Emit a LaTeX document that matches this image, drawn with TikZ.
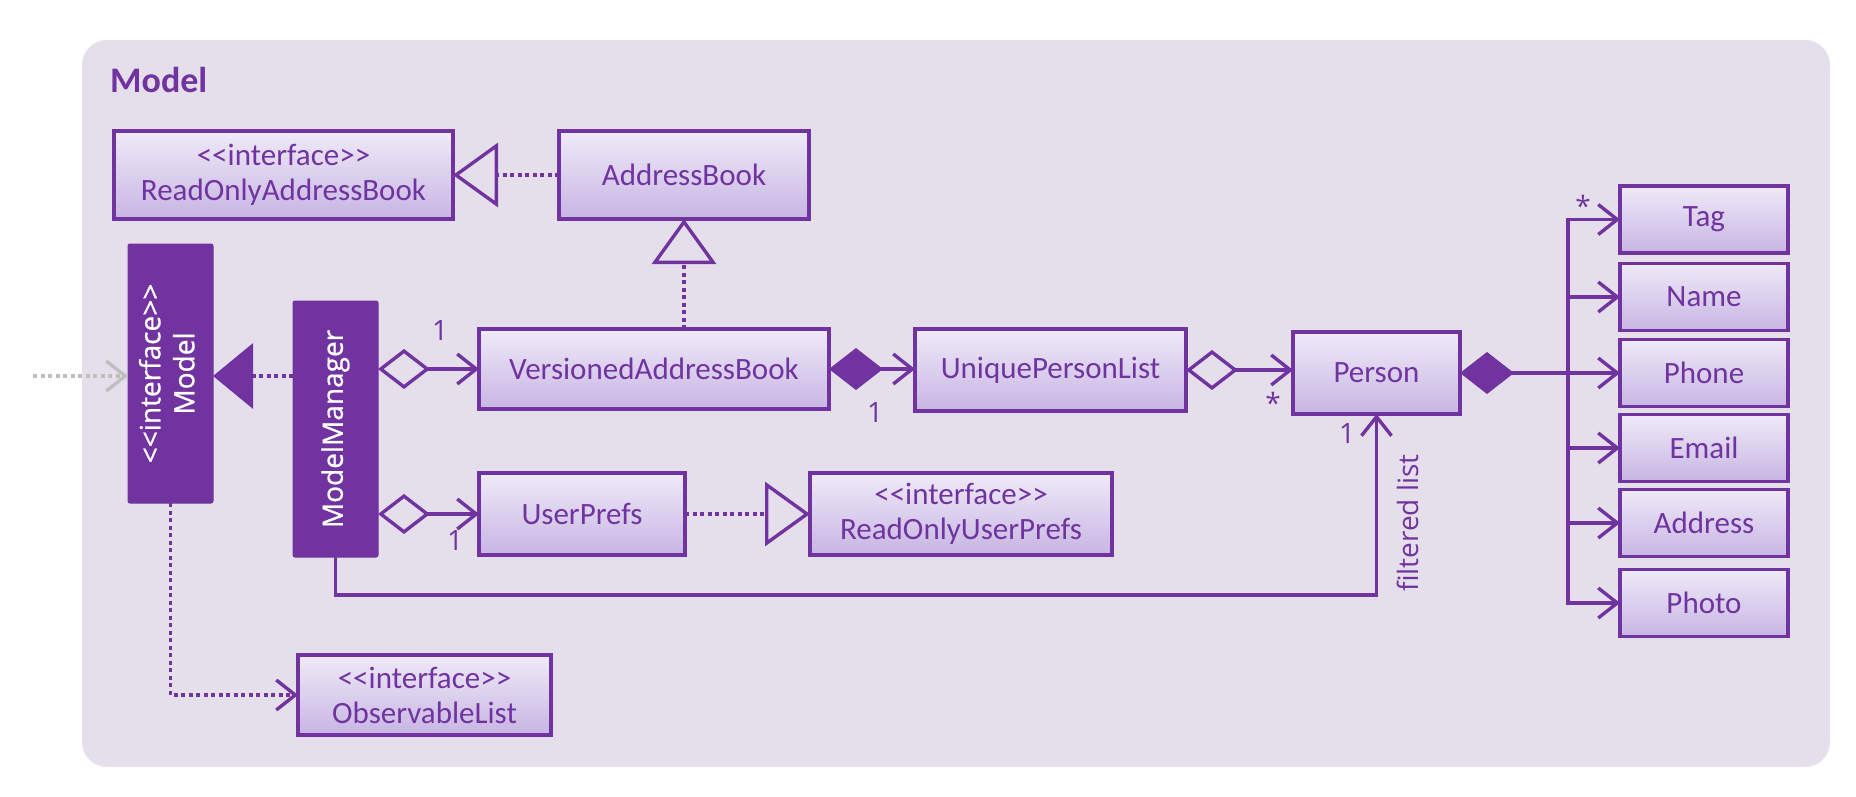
\documentclass[tikz,border=0pt]{standalone}
\usepackage{fontspec}
\usetikzlibrary{arrows.meta}

\newfontfamily\carlito{Carlito}[Ligatures=TeXOff]
\newfontfamily\osans{Open Sans}[Ligatures=TeXOff]
\newfontfamily\osanswhite{Open Sans}[Ligatures=TeXOff,FakeBold=0.8]

\definecolor{umlpurple}{RGB}{112,51,160}
\definecolor{panelbg}{RGB}{229,223,236}
\definecolor{boxtop}{RGB}{239,234,248}
\definecolor{boxbot}{RGB}{199,181,227}
\definecolor{extgray}{RGB}{190,190,190}

\newcommand\boxtext{\carlito\fontsize{31}{35}\selectfont}
\newcommand\solidtext{\osanswhite\fontsize{28}{34}\selectfont}
\newcommand\labeltext{\osans\fontsize{28}{32}\selectfont}
\newcommand\titletext{\carlito\bfseries\fontsize{36}{40}\selectfont}

\begin{document}
\begin{tikzpicture}[x=1pt,y=-1pt,
  cls/.style={draw=umlpurple, line width=3.5pt, top color=boxtop, bottom color=boxbot,
    text=umlpurple, font=\boxtext, align=center, inner sep=0pt, outer sep=0pt},
  solidcls/.style={draw=umlpurple, fill=umlpurple, line width=1pt, rounded corners=2pt,
    text=white, font=\solidtext, inner sep=0pt, outer sep=0pt},
  attr/.style={cls, minimum width=168pt, minimum height=67pt},
  lbl/.style={text=umlpurple, font=\labeltext, inner sep=0pt},
  link/.style={draw=umlpurple, line width=3.4pt},
  dots/.style={link, dash pattern=on 4pt off 3.5pt},
  >={Straight Barb[length=19pt,width=30pt]},
  odia/.tip={Diamond[open,length=52pt,width=40pt]},
  sdia/.tip={Diamond[length=54pt,width=42pt]},
  otri/.tip={Triangle[open,length=45pt,width=64pt]},
  stri/.tip={Triangle[length=40pt,width=65pt]},
]
\useasboundingbox (0,0) rectangle (1856,796);

% package panel
\fill[panelbg, rounded corners=25pt] (82,40) rectangle (1830,767);
\node[anchor=west, text=umlpurple, font=\titletext, inner sep=0pt] (title) at (110,80) {Model};

% classes
\node[cls, minimum width=339pt, minimum height=88pt] (roab) at (283.5,175) {<<interface>>\\ReadOnlyAddressBook};
\node[cls, minimum width=250pt, minimum height=88pt] (ab) at (684,175) {AddressBook};
\node[solidcls, minimum width=85pt, minimum height=259pt] (model) at (170.5,373.5)
  {\rotatebox{90}{\begin{tabular}{@{}c@{}}<<interface>>\\Model\end{tabular}}};
\node[solidcls, minimum width=85pt, minimum height=256pt] (mm) at (335.5,429)
  {\rotatebox{90}{ModelManager}};
\node[cls, minimum width=350pt, minimum height=80pt] (vab) at (654,369) {VersionedAddressBook};
\node[cls, minimum width=271pt, minimum height=82pt] (upl) at (1050.5,370) {UniquePersonList};
\node[cls, minimum width=167pt, minimum height=82pt] (person) at (1376.5,373) {Person};
\node[cls, minimum width=206pt, minimum height=82pt] (up) at (582,514) {UserPrefs};
\node[cls, minimum width=302pt, minimum height=82pt] (roup) at (961,514) {<<interface>>\\ReadOnlyUserPrefs};
\node[cls, minimum width=253pt, minimum height=80pt] (obs) at (424.5,695) {<<interface>>\\ObservableList};

\node[attr] (tag) at (1704,219.5) {Tag};
\node[attr] (name) at (1704,297) {Name};
\node[attr] (phone) at (1704,373) {Phone};
\node[attr] (email) at (1704,448) {Email};
\node[attr] (address) at (1704,523) {Address};
\node[attr] (photo) at (1704,603) {Photo};

% incoming dependency from outside the package
\coordinate (ext) at (33,376);
\draw[dots, draw=extgray, ->] (ext) -- (ext -| model.west);

% ModelManager implements Model
\draw[dots, -stri] (mm.west |- 0,376) -- (model.east |- 0,376);

% Model exposes an ObservableList
\draw[dots, ->] (model.south) |- (obs.west);

% ModelManager aggregations
\draw[link, odia->] (mm.east |- vab.west) -- (vab.west);
\draw[link, odia->] (mm.east |- up.west) -- (up.west);
\node[lbl] (m1) at (440,330) {1};
\node[lbl] (m2) at (455,540) {1};

% filtered person list
\draw[link, ->] (mm.south) -- ++(0,38) -| (person.south);
\node[lbl] (m3) at (1347,433) {1};
\node[lbl, rotate=90] (fl) at (1408,523) {filtered list};

% realizations and generalization
\draw[dots, -otri] (ab.west) -- (roab.east);
\draw[dots, -otri] (vab.north -| ab.south) -- (ab.south);
\draw[dots, -otri] (up.east) -- (roup.west);

% address book contents
\draw[link, sdia->] (vab.east) -- (vab.east -| upl.west);
\node[lbl] (m4) at (875,412) {1};
\draw[link, odia->] (upl.east) -- (upl.east -| person.west);
\node[lbl] (m5) at (1273,403) {*};

% person attributes
\coordinate (bus) at (1568,374);
\draw[link, sdia-] (person.east) -- (person.east -| bus);
\draw[link, ->] (bus |- photo.west) -- (bus |- tag.west) -- (tag.west);
\draw[link, ->] (bus |- tag.west) -- (bus |- photo.west) -- (photo.west);
\draw[link, ->] (bus |- name.west) -- (name.west);
\draw[link, ->] (bus |- phone.west) -- (phone.west);
\draw[link, ->] (bus |- email.west) -- (email.west);
\draw[link, ->] (bus |- address.west) -- (address.west);
\node[lbl] (m6) at (1583,206) {*};
\end{tikzpicture}
\end{document}
